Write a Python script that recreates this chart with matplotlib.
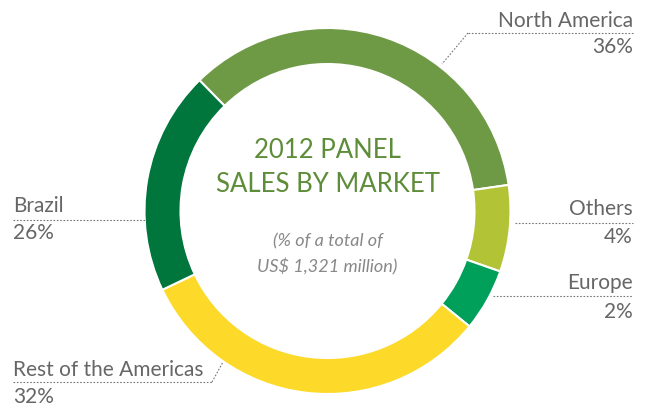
import matplotlib
matplotlib.use("Agg")
import matplotlib.pyplot as plt

# market shares as printed on the chart
markets = ["North America", "Others", "Europe", "Rest of the Americas", "Brazil"]
share_labels = [36, 4, 2, 32, 26]
# arc sizes as actually drawn in the source graphic (degrees of the ring)
arc_degrees = [126.2, 27.5, 19.8, 115.4, 71.1]
colors = ["#6f9a45", "#b2c435", "#00a05a", "#fdd92a", "#00763d"]

title_lines = ["2012 PANEL", "SALES BY MARKET"]
subtitle_lines = ["(% of a total of", "US$ 1,321 million)"]

W, H = 645, 406
plt.rcParams["font.family"] = ["Lato", "DejaVu Sans"]

fig = plt.figure(figsize=(W / 100, H / 100), dpi=100)
ax = fig.add_axes([0, 0, 1, 1])
ax.set_xlim(0, W)
ax.set_ylim(0, H)
ax.axis("off")


def Y(y):  # image row -> plot coordinate
    return H - y


cx, cy, r_out, ring = 327.5, Y(212), 183, 36
ax.pie(arc_degrees, colors=colors, startangle=134.4, counterclock=False,
       center=(cx, cy), radius=r_out,
       wedgeprops=dict(width=ring, edgecolor="white", linewidth=1.5))
ax.set_xlim(0, W)
ax.set_ylim(0, H)
ax.set_aspect("equal")

green = "#5e8d3a"
ax.text(cx, Y(151), title_lines[0], ha="center", va="center", fontsize=18.5, color=green)
ax.text(cx, Y(185), title_lines[1], ha="center", va="center", fontsize=18.5, color=green)
ax.text(cx, Y(241), subtitle_lines[0], ha="center", va="center", fontsize=13,
        color="#888888", style="italic")
ax.text(cx, Y(267), subtitle_lines[1], ha="center", va="center", fontsize=13,
        color="#888888", style="italic")

txt = "#666666"
lkw = dict(color="#777777", linewidth=0.8, linestyle=(0, (1.5, 1.5)))
fs = 15

# label layout: (name y, line y, pct y, line x-start, line x-end, leader pts, align)
layout = {
    "North America": (21, 34, 47, 468, 633, [(468, 34), (442, 65)], "right"),
    "Others": (209, 224, 237, 515, 633, None, "right"),
    "Europe": (283, 297, 312, 493, 633, None, "right"),
    "Brazil": (206, 221, 233, 13, 145, None, "left"),
    "Rest of the Americas": (370, 383, 397, 13, 212, [(212, 383), (223, 363)], "left"),
}

for name, pct in zip(markets, share_labels):
    ny, ly, py, x0, x1, leader, align = layout[name]
    tx = x1 if align == "right" else x0
    ax.text(tx, Y(ny), name, ha=align, va="center", fontsize=fs, color=txt)
    ax.text(tx, Y(py), f"{pct}%", ha=align, va="center", fontsize=fs, color=txt)
    ax.plot([x0, x1], [Y(ly), Y(ly)], **lkw)
    if leader:
        ax.plot([p[0] for p in leader], [Y(p[1]) for p in leader], **lkw)

fig.savefig("out.png", dpi=100, facecolor="white")
